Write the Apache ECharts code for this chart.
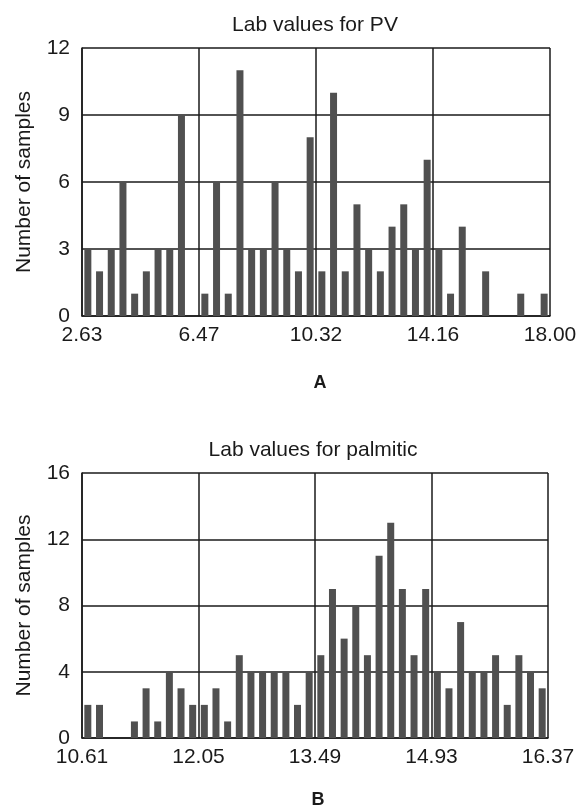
<!DOCTYPE html>
<html>
<head>
<meta charset="utf-8">
<script src="https://cdn.jsdelivr.net/npm/echarts@6/dist/echarts.min.js"></script>
<style>
html,body{margin:0;padding:0;background:#fff;}
#c{width:582px;height:810px;}
</style>
</head>
<body>
<div id="c"></div>
<script>
// Panel A: Lab values for PV (40 bins)
const pvTickLabels = ['2.63', '6.47', '10.32', '14.16', '18.00'];
const pvCounts = [3, 2, 3, 6, 1, 2, 3, 3, 9, 0,
                  1, 6, 1, 11, 3, 3, 6, 3, 2, 8,
                  2, 10, 2, 5, 3, 2, 4, 5, 3, 7,
                  3, 1, 4, 0, 2, 0, 0, 1, 0, 1];
const pvYTicks = [0, 3, 6, 9, 12];

// Panel B: Lab values for palmitic (40 bins)
const palTickLabels = ['10.61', '12.05', '13.49', '14.93', '16.37'];
const palCounts = [2, 2, 0, 0, 1, 3, 1, 4, 3, 2,
                   2, 3, 1, 5, 4, 4, 4, 4, 2, 4,
                   5, 9, 6, 8, 5, 11, 13, 9, 5, 9,
                   4, 3, 7, 4, 4, 5, 2, 5, 4, 3];
const palYTicks = [0, 4, 8, 12, 16];

const titles = ['Lab values for PV', 'Lab values for palmitic'];
const panelLetters = ['A', 'B'];
const yName = 'Number of samples';

const FONT = 'Liberation Sans, Arial, Helvetica, sans-serif';
const INK = '#1a1a1a';

function toPoints(arr) { return arr.map((v, i) => [i + 0.5, v]); }

function xAxisFor(gridIndex, labels) {
  const step = 40 / (labels.length - 1);
  return {
    type: 'value', gridIndex: gridIndex, min: 0, max: 40, interval: step,
    axisLine: { show: true, lineStyle: { color: INK, width: 1.5 } },
    axisTick: { show: false },
    splitLine: { show: true, lineStyle: { color: INK, width: 1.5 } },
    axisLabel: {
      margin: 9, fontSize: 21, color: INK, fontFamily: FONT,
      formatter: v => labels[Math.round(v / step)] || ''
    }
  };
}
function yAxisFor(gridIndex, ticks) {
  return {
    type: 'value', gridIndex: gridIndex,
    min: ticks[0], max: ticks[ticks.length - 1], interval: ticks[1] - ticks[0],
    name: yName, nameLocation: 'middle', nameGap: 47,
    nameTextStyle: { fontSize: 21, color: INK, fontFamily: FONT },
    axisLine: { show: true, lineStyle: { color: INK, width: 1.5 } },
    axisTick: { show: false },
    splitLine: { show: true, lineStyle: { color: INK, width: 1.5 } },
    axisLabel: { margin: 12, fontSize: 21, color: INK, fontFamily: FONT }
  };
}

const chart = echarts.init(document.getElementById('c'), null, { renderer: 'canvas' });
chart.setOption({
  animation: false,
  backgroundColor: '#fff',
  title: [
    { text: titles[0], left: 310, top: 10, textAlign: 'center',
      textStyle: { fontSize: 21, fontWeight: 'normal', color: INK, fontFamily: FONT } },
    { text: panelLetters[0], left: 315, top: 369, textAlign: 'center',
      textStyle: { fontSize: 18, fontWeight: 'bold', color: INK, fontFamily: FONT } },
    { text: titles[1], left: 308, top: 435, textAlign: 'center',
      textStyle: { fontSize: 21, fontWeight: 'normal', color: INK, fontFamily: FONT } },
    { text: panelLetters[1], left: 313, top: 786, textAlign: 'center',
      textStyle: { fontSize: 18, fontWeight: 'bold', color: INK, fontFamily: FONT } }
  ],
  grid: [
    { left: 82, right: 32, top: 48, height: 268 },
    { left: 82, right: 34, top: 473, height: 265 }
  ],
  xAxis: [xAxisFor(0, pvTickLabels), xAxisFor(1, palTickLabels)],
  yAxis: [yAxisFor(0, pvYTicks), yAxisFor(1, palYTicks)],
  series: [
    { type: 'bar', xAxisIndex: 0, yAxisIndex: 0, data: toPoints(pvCounts),
      barWidth: 7, itemStyle: { color: '#505050' }, z: 1 },
    { type: 'bar', xAxisIndex: 1, yAxisIndex: 1, data: toPoints(palCounts),
      barWidth: 7, itemStyle: { color: '#505050' }, z: 1 }
  ]
});
</script>
</body>
</html>
